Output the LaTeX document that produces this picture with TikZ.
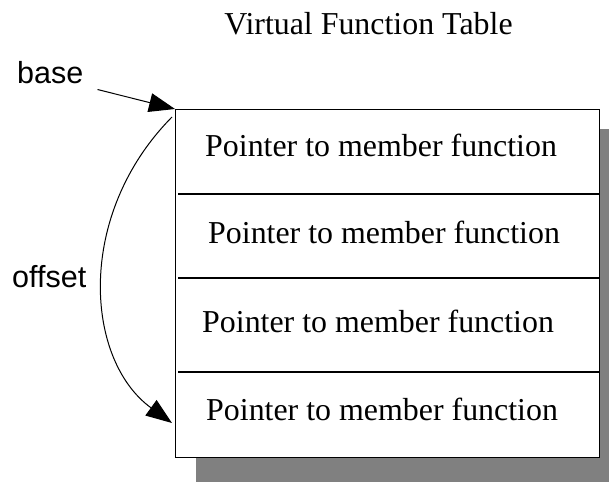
\documentclass[tikz,border=0pt]{standalone}
\usepackage{fontspec}
\setmainfont{Liberation Serif}
\newfontfamily\sansf{Liberation Sans}
\usetikzlibrary{arrows.meta}
\definecolor{shadowgray}{RGB}{128,128,128}
\begin{document}
\begin{tikzpicture}[x=1pt,y=-1pt,
 lbl/.style={inner sep=0pt, anchor=base west, font=\fontsize{31.9}{36}\selectfont},
 side/.style={inner sep=0pt, anchor=base west, font=\sansf\fontsize{30.5}{34}\selectfont},
 arr/.style={-{Triangle[length=26pt,width=19pt]}, line width=1pt},
 rule/.style={line width=1.3pt}]
\useasboundingbox (0,0) rectangle (609,481);
\fill[shadowgray] (196,129) rectangle (625,490);
\node[draw, line width=1.2pt, fill=white, minimum width=424pt, minimum height=348pt,
      anchor=north west, inner sep=0pt] (table) at (175,109) {};
\draw[rule] (178,194) -- (table.east |- 0,194);
\draw[rule] (178,278) -- (table.east |- 0,278);
\draw[rule] (178,372) -- (table.east |- 0,372);
\node[lbl, anchor=base] (title) at (368.5,35) {Virtual Function Table};
\node[lbl] (r1) at (205,157) {Pointer to member function};
\node[lbl] (r2) at (208,243) {Pointer to member function};
\node[lbl] (r3) at (202,332) {Pointer to member function};
\node[lbl] (r4) at (206,420) {Pointer to member function};
\node[side] (base) at (17,84) {base};
\node[side] (offset) at (12,287) {offset};
\draw[arr] ([shift={(14,5)}]base.south east) -- (table.north west);
\coordinate (o1) at (172,117);
\coordinate (o2) at (172,423);
\draw[arr] (o1) .. controls (75,215) and (85,360) .. (o2);
\end{tikzpicture}
\end{document}
